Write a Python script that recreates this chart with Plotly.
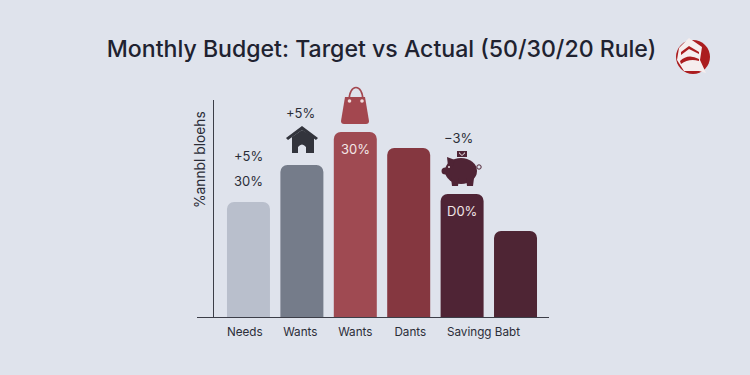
import re
import plotly.graph_objects as go

TITLE = "Monthly Budget: Target vs Actual (50/30/20 Rule)"
Y_TITLE = "%annbl bloehs"
positions = [0, 1, 2, 3, 4, 5]
values = [115, 152, 185, 169, 123, 86]
bar_colors = ["#b9bfcc", "#757c8a", "#9f4a52", "#853740", "#4f2435", "#4e2534"]
tick_positions = [-0.07, 0.97, 2.0, 3.03, 4.4]
tick_labels = ["Needs", "Wants", "Wants", "Dants", "Savingg Babt"]
label_x = [0, 0, 0.97, 2, 3.93, 4]
label_y = [161, 136, 204, 168, 179, 106]
label_text = ["+5%", "30%", "+5%", "30%", "−3%", "D0%"]
label_color = ["#2b2d38", "#2b2d38", "#2b2d38", "#f3e6e6", "#2b2d38", "#f0e4e6"]

W, H = 750, 375
FONT = "Inter, 'Noto Sans', sans-serif"
INK = "#2b2d38"


def px_path(s):
    return re.sub(r"(-?[\d.]+),(-?[\d.]+)",
                  lambda m: f"{float(m[1]) / W:.5f},{1 - float(m[2]) / H:.5f}", s)


def poly(s, color):
    return dict(type="path", xref="paper", yref="paper", path=px_path(s),
                fillcolor=color, line=dict(width=0), layer="above")


def ell(cx, cy, rx, ry, color, line=0, linecolor=None):
    return dict(type="circle", xref="paper", yref="paper",
                x0=(cx - rx) / W, x1=(cx + rx) / W,
                y0=1 - (cy + ry) / H, y1=1 - (cy - ry) / H,
                fillcolor=color, line=dict(width=line, color=linecolor or color), layer="above")


HOUSE = "#32343c"
BAG = "#a3474f"
PIG = "#4f2435"
RED = "#ab1d1f"
WHITE = "#f6eeee"
shapes = [
    # house
    poly("M 302,126 L 318,138 L 316,140 L 302,130 L 288,140 L 286,138 Z", HOUSE),
    poly("M 292,137 L 302,130 L 314,137 L 314,153 L 306,153 L 306,147 "
         "Q 302,142 298,147 L 298,153 L 292,153 Z", HOUSE),
    # bag
    poly("M 345,97 L 365,97 L 369,121 Q 369,124 366,124 L 344,124 Q 341,124 341,121 Z", BAG),
    dict(type="path", xref="paper", yref="paper", layer="above",
         path=px_path("M 349,101 C 349,83 363,83 363,101"),
         line=dict(color=BAG, width=1.6)),
    ell(349.5, 101, 1.8, 1.8, "#f0dcdc"),
    ell(362, 101, 1.8, 1.8, "#f0dcdc"),
    # piggy bank
    ell(461, 171, 16, 13, PIG),
    ell(445.5, 171, 4, 3.5, PIG),
    poly("M 447,157 L 455,160 L 452,168 L 448,166 Z", PIG),
    poly("M 451,178 L 459,178 L 458,186 L 452,186 Z", PIG),
    poly("M 466,178 L 474,178 L 473,186 L 467,186 Z", PIG),
    ell(479, 167, 2.2, 2.2, "rgba(0,0,0,0)", 1, PIG),
    ell(449, 167, 1, 1, "#e8dce0"),
    poly("M 457,151 L 467,151 L 467,157 L 457,157 Z", PIG),
    poly("M 459,152 L 462,155 L 465,152 L 465,153.5 L 462,156 L 459,153.5 Z", "#d9cdd3"),
    # logo
    ell(693, 57, 17, 17, RED),
    poly("M 689,38 L 702,47 L 700,60 L 706,73 L 699,71 L 684,71 L 677,60 L 679,48 Z", WHITE),
    poly("M 681,52 L 689,46 L 699,52 L 699,54 L 689,49 L 681,55 Z", RED),
    poly("M 680,61 Q 688,53 699,59 L 699,61 Q 689,58 681,64 Z", RED),
]

annotations = [
    dict(x=x, y=y, text=t, xref="x", yref="y", showarrow=False,
         font=dict(family=FONT, size=13, color=c))
    for x, y, t, c in zip(label_x, label_y, label_text, label_color)
]
annotations.append(dict(x=200 / W, y=1 - 160 / H, xref="paper", yref="paper", text=Y_TITLE,
                        textangle=-90, showarrow=False, xanchor="center", yanchor="middle",
                        font=dict(family=FONT, size=13.8, color=INK)))

fig = go.Figure(go.Bar(x=positions, y=values, width=0.805,
                       marker=dict(color=bar_colors, cornerradius=7, line=dict(width=0)),
                       hoverinfo="skip"))
fig.update_layout(
    width=W, height=H, margin=dict(l=0, r=0, t=0, b=0),
    paper_bgcolor="#dfe3ec", plot_bgcolor="rgba(0,0,0,0)", showlegend=False,
    title=dict(text=TITLE, x=381.5 / W, xanchor="center", y=1 - 49 / H, yanchor="middle",
               font=dict(family=FONT, size=23.1, color="#202230", weight=500)),
    xaxis=dict(domain=[197 / W, 549 / W], range=[-0.964, 5.627], showgrid=False, zeroline=False,
               showline=True, linecolor="#3c3e48", linewidth=1.4, ticks="",
               tickmode="array", tickvals=tick_positions, ticktext=tick_labels,
               tickfont=dict(family=FONT, size=11.7, color=INK), ticklabelstandoff=4),
    yaxis=dict(domain=[1 - 317 / H, 1 - 100 / H], range=[0, 217], showgrid=False, zeroline=False,
               anchor="free", position=213 / W, showline=True, linecolor="#3c3e48", linewidth=1.4,
               showticklabels=False, ticks=""),
    shapes=shapes, annotations=annotations,
)
fig.write_html("out.html", config={"displayModeBar": False},
               post_script="document.body.style.margin='0';")
